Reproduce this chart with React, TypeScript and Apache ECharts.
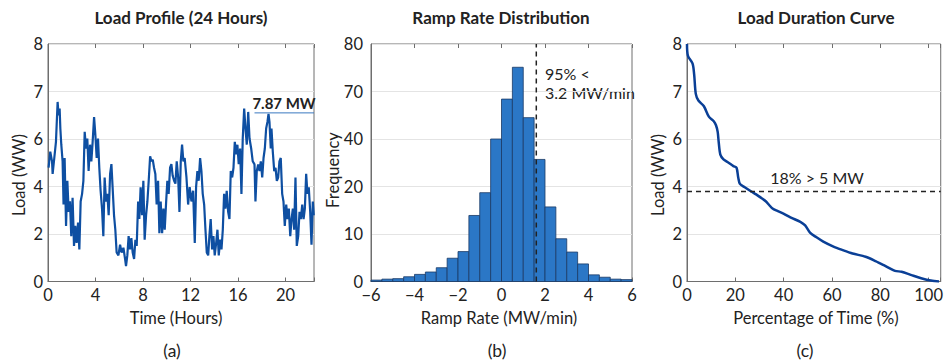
import React, { useEffect, useRef } from "react";
import * as echarts from "echarts";

// ---------- data ----------
const LOAD_TICKS = [0, 2, 4, 6, 7, 8];
const FREQ_TICKS = [0, 10, 20, 40, 70, 80];

const HOURS = [
  0.05, 0.19, 0.34, 0.39, 0.53, 0.67, 0.81, 0.89, 0.98, 1.04, 1.12, 1.23, 1.31, 1.4, 1.52, 1.63, 1.74, 1.85, 1.96, 2.07,
  2.19, 2.3, 2.41, 2.53, 2.64, 2.75, 2.87, 2.98, 3.09, 3.2, 3.31, 3.42, 3.54, 3.65, 3.76, 3.88, 3.99, 4.1, 4.21, 4.32,
  4.43, 4.55, 4.66, 4.77, 4.89, 5.0, 5.11, 5.23, 5.34, 5.44, 5.56, 5.67, 5.78, 5.93, 6.07, 6.2, 6.35, 6.49, 6.57, 6.68,
  6.79, 6.91, 7.02, 7.13, 7.25, 7.36, 7.47, 7.59, 7.69, 7.8, 7.92, 8.03, 8.14, 8.26, 8.37, 8.48, 8.6, 8.71, 8.82, 8.93,
  9.04, 9.15, 9.27, 9.38, 9.49, 9.61, 9.72, 9.83, 9.95, 10.05, 10.16, 10.28, 10.39, 10.5, 10.62, 10.73, 10.84, 10.96, 11.07, 11.18,
  11.29, 11.4, 11.51, 11.66, 11.8, 11.93, 12.08, 12.22, 12.36, 12.47, 12.58, 12.69, 12.81, 12.92, 13.03, 13.15, 13.26, 13.37, 13.49, 13.59,
  13.7, 13.82, 13.93, 14.04, 14.16, 14.27, 14.38, 14.5, 14.61, 14.72, 14.83, 14.94, 15.05, 15.17, 15.28, 15.39, 15.51, 15.62, 15.73, 15.84,
  15.95, 16.06, 16.18, 16.29, 16.4, 16.52, 16.63, 16.74, 16.86, 16.97, 17.11, 17.24, 17.39, 17.47, 17.58, 17.7, 17.81, 17.92, 18.04, 18.15,
  18.26, 18.37, 18.48, 18.57, 18.65, 18.76, 18.82, 18.93, 19.05, 19.16, 19.27, 19.38, 19.49, 19.6, 19.72, 19.83, 19.94, 20.06, 20.17, 20.28,
  20.4, 20.51, 20.62, 20.73, 20.84, 20.95, 21.07, 21.18, 21.29, 21.41, 21.52, 21.63, 21.74, 21.85, 21.96, 22.08, 22.19, 22.3, 22.38,
];
const LOAD = [
  4.79, 5.47, 5.06, 4.53, 5.2, 5.88, 6.78, 6.5, 6.64, 6.22, 5.76, 5.06, 3.24, 5.2, 2.34, 4.24, 2.93, 3.38, 1.91, 3.52,
  1.5, 2.34, 1.62, 2.48, 1.35, 3.37, 3.69, 4.24, 6.15, 5.6, 6.01, 4.65, 5.76, 5.06, 5.88, 6.46, 6.08, 5.2, 6.01, 4.79,
  3.82, 3.07, 1.91, 4.38, 3.37, 3.69, 2.79, 4.53, 4.94, 3.97, 2.79, 2.18, 1.22, 1.1, 1.55, 1.22, 1.42, 0.95, 0.65, 1.1,
  1.91, 1.35, 1.83, 1.22, 0.95, 1.76, 1.5, 3.37, 2.63, 3.97, 2.79, 4.24, 1.76, 2.79, 3.37, 4.24, 5.27, 5.06, 5.13, 4.79,
  4.53, 3.24, 4.24, 2.03, 3.37, 2.03, 3.07, 2.18, 3.37, 4.24, 3.69, 4.79, 4.94, 4.45, 4.24, 4.12, 5.06, 4.38, 2.93, 5.06,
  5.76, 5.06, 5.2, 4.38, 3.24, 3.97, 3.37, 3.82, 1.62, 3.97, 4.65, 4.24, 5.2, 4.65, 3.69, 3.24, 2.18, 1.22, 1.1, 1.91,
  2.63, 1.35, 1.91, 1.1, 1.62, 2.18, 1.1, 1.76, 1.35, 2.18, 3.69, 3.07, 3.82, 2.93, 2.63, 4.65, 4.38, 4.79, 5.88, 5.35,
  5.76, 4.94, 5.6, 3.69, 6.01, 6.64, 6.22, 5.76, 6.57, 6.01, 5.6, 5.06, 4.93, 3.37, 4.65, 4.93, 4.65, 5.06, 4.38, 5.2,
  5.6, 6.22, 6.36, 6.53, 6.36, 5.6, 6.22, 5.47, 4.65, 4.79, 4.24, 4.38, 5.06, 5.2, 3.69, 3.37, 2.34, 3.24, 2.63, 3.07,
  1.91, 2.63, 3.07, 2.18, 4.38, 1.5, 1.91, 2.93, 2.63, 3.24, 2.63, 3.07, 4.53, 3.69, 3.97, 2.93, 1.55, 3.37, 2.79,
];
const PEAK_LABEL = "7.87 MW";
const PEAK_LINE_HOURS = [17.39, 22.4];
const PEAK_LINE_LOAD = 6.55;

const BIN_LEFT = [
  -6, -5.5, -5, -4.5, -4, -3.5, -3, -2.5, -2, -1.5, -1, -0.5,
  0, 0.5, 1, 1.5, 2, 2.5, 3, 3.5, 4, 4.5, 5, 5.5,
];
const BIN_WIDTH = 0.5;
const FREQ = [
  0.3, 0.5, 0.6, 1.0, 1.5, 2.0, 2.9, 4.9, 6.3, 13.9, 18.7, 40,
  65.2, 75.1, 53.5, 31.4, 15.7, 9.0, 6.2, 3.7, 1.4, 0.9, 0.5, 0.4,
];
const P95_RAMP = 1.6;

const LDC_PCT = [
  0, 0.39, 2.28, 2.96, 3.64, 4.72, 7.0, 9.04, 11.07, 12.0, 12.7, 13.1, 13.8, 15.1, 17.2, 19.2, 20.5, 21.2, 21.9, 23.9,
  26.6, 28.6, 30.7, 32.7, 34.0, 35.4, 37.4, 40.1, 42.8, 46.9, 48.9, 50.9, 53.6, 56.4, 60.4, 64.5, 68.5, 73.9, 78.0, 82.0,
  86.1, 88.8, 92.9, 96.9, 100.9, 104.3,
];
const LDC_LOAD = [
  8.0, 7.75, 7.59, 7.36, 6.95, 6.81, 6.69, 6.47, 6.375, 6.29, 6.15, 5.89, 5.34, 5.14, 5.0, 4.86, 4.79, 4.38, 4.11, 3.97,
  3.79, 3.67, 3.52, 3.37, 3.22, 3.07, 2.97, 2.85, 2.7, 2.51, 2.36, 2.06, 1.86, 1.68, 1.48, 1.32, 1.18, 1.04, 0.86, 0.66,
  0.45, 0.41, 0.27, 0.14, 0.04, 0.0,
];
const LDC_THRESHOLD = 3.79;

// ---------- helpers ----------
function toPos(v: number, ticks: number[]): number {
  for (let i = 0; i < ticks.length - 1; i++) {
    if (v <= ticks[i + 1]) return i + (v - ticks[i]) / (ticks[i + 1] - ticks[i]);
  }
  return ticks.length - 1;
}

const FONT = "Lato, 'Noto Sans', sans-serif";
const TXT = "#222";
const FRAME = "#6e6e6e";
const GRIDLINE = "#e4e4e4";

const GRIDS = [
  { left: 48, top: 44, width: 266, height: 237.5 },
  { left: 371, top: 44, width: 261, height: 237.5 },
  { left: 687, top: 44, width: 259, height: 237.5 },
];

function yAxis(gridIndex: number, ticks: number[], margin: number) {
  return {
    type: "value",
    gridIndex,
    min: 0,
    max: ticks.length - 1,
    interval: 1,
    axisLine: { show: true, onZero: false, lineStyle: { color: FRAME } },
    axisTick: { show: false },
    splitLine: { show: true, lineStyle: { color: GRIDLINE, width: 1 } },
    axisLabel: {
      margin,
      fontSize: 16.5,
      color: TXT,
      fontFamily: FONT,
      formatter: (v: number) => String(ticks[Math.round(v)]),
    },
  };
}

function xAxis(gridIndex: number, min: number, max: number, interval: number, fmt: (v: number) => string) {
  return {
    type: "value",
    gridIndex,
    min,
    max,
    interval,
    axisLine: { show: true, onZero: false, lineStyle: { color: FRAME } },
    axisTick: { show: true, inside: true, length: 4, lineStyle: { color: FRAME } },
    splitLine: { show: false },
    axisLabel: { margin: 5, fontSize: 16.5, color: TXT, fontFamily: FONT, formatter: fmt },
  };
}

function topAxis(gridIndex: number, min: number, max: number, interval: number) {
  return {
    type: "value",
    gridIndex,
    position: "top",
    min,
    max,
    interval,
    axisLine: { show: false, onZero: false },
    axisTick: { show: true, inside: true, length: 4, lineStyle: { color: FRAME } },
    splitLine: { show: false },
    axisLabel: { show: false },
  };
}

const minusFmt = (v: number) => (v < 0 ? "\u2212" + Math.abs(v) : String(v));

function text(x: number, y: number, s: string, size: number, opts: any = {}) {
  return {
    type: "text",
    x,
    y,
    rotation: opts.rotation || 0,
    silent: true,
    style: {
      text: s,
      fill: TXT,
      fontSize: size,
      fontFamily: FONT,
      fontWeight: opts.weight || "normal",
      align: opts.align || "center",
      verticalAlign: "middle",
    },
  };
}

export default function App() {
  const ref = useRef<HTMLDivElement>(null);

  useEffect(() => {
    if (!ref.current) return;
    const chart = echarts.init(ref.current, undefined, { renderer: "svg" });

    const loadData = HOURS.map((h, i) => [h, toPos(LOAD[i], LOAD_TICKS)]);
    const histData = FREQ.map((f, i) => [BIN_LEFT[i], BIN_LEFT[i] + BIN_WIDTH, toPos(f, FREQ_TICKS)]);
    const ldcData = LDC_PCT.map((p, i) => [p, toPos(LDC_LOAD[i], LOAD_TICKS)]);

    chart.setOption({
      animation: false,
      backgroundColor: "#fff",
      grid: GRIDS.map((g) => ({ ...g, show: true, borderColor: FRAME, borderWidth: 1, backgroundColor: "transparent" })),
      xAxis: [
        xAxis(0, 0, 22.4, 4, (v) => (v % 4 === 0 ? String(v) : "")),
        xAxis(1, -6, 6, 2, minusFmt),
        xAxis(2, 0, 105, 20, (v) => (v % 20 === 0 ? String(v) : "")),
        topAxis(0, 0, 22.4, 4),
        topAxis(1, -6, 6, 2),
        topAxis(2, 0, 105, 20),
      ],
      yAxis: [yAxis(0, LOAD_TICKS, 5), yAxis(1, FREQ_TICKS, 8), yAxis(2, LOAD_TICKS, 5)],
      series: [
        {
          type: "line",
          xAxisIndex: 0,
          yAxisIndex: 0,
          data: loadData,
          showSymbol: false,
          lineStyle: { color: "#0e4fa2", width: 2.2 },
          z: 3,
        },
        {
          type: "line",
          xAxisIndex: 0,
          yAxisIndex: 0,
          data: PEAK_LINE_HOURS.map((h) => [h, toPos(PEAK_LINE_LOAD, LOAD_TICKS)]),
          showSymbol: false,
          lineStyle: { color: "#3a78c0", width: 1 },
          z: 4,
        },
        {
          type: "custom",
          xAxisIndex: 1,
          yAxisIndex: 1,
          data: histData,
          encode: { x: [0, 1], y: 2 },
          renderItem: (params: any, api: any) => {
            const p0 = api.coord([api.value(0), 0]);
            const p1 = api.coord([api.value(1), api.value(2)]);
            return {
              type: "rect",
              shape: { x: p0[0], y: p1[1], width: p1[0] - p0[0], height: p0[1] - p1[1] },
              style: { fill: "#2b77c6", stroke: "#1b3a66", lineWidth: 0.8 },
            };
          },
          z: 2,
        },
        {
          type: "line",
          xAxisIndex: 1,
          yAxisIndex: 1,
          data: [
            [P95_RAMP, 0],
            [P95_RAMP, FREQ_TICKS.length - 1],
          ],
          showSymbol: false,
          lineStyle: { color: "#222", width: 1.5, type: [5, 4] },
          z: 5,
        },
        {
          type: "line",
          xAxisIndex: 2,
          yAxisIndex: 2,
          data: ldcData,
          showSymbol: false,
          smooth: 0.3,
          lineStyle: { color: "#0a3f96", width: 2.5 },
          z: 3,
        },
        {
          type: "line",
          xAxisIndex: 2,
          yAxisIndex: 2,
          data: [
            [0, toPos(LDC_THRESHOLD, LOAD_TICKS)],
            [105, toPos(LDC_THRESHOLD, LOAD_TICKS)],
          ],
          showSymbol: false,
          lineStyle: { color: "#222", width: 1.5, type: [5, 4] },
          z: 4,
        },
      ],
      graphic: [
        text(181, 17, "Load Profile (24 Hours)", 17, { weight: "bold" }),
        text(501, 17, "Ramp Rate Distribution", 17, { weight: "bold" }),
        text(816, 17, "Load Duration Curve", 17, { weight: "bold" }),
        text(19, 175, "Load (WW)", 16.5, { rotation: Math.PI / 2 }),
        text(333, 170, "Frequency", 16.5, { rotation: Math.PI / 2 }),
        text(658, 175, "Load (WW)", 16.5, { rotation: Math.PI / 2 }),
        text(176, 318, "Time (Hours)", 16.5),
        text(499, 318, "Ramp Rate (MW/min)", 16.5),
        text(816, 318, "Percentage of Time (%)", 16.5),
        text(172, 350, "(a)", 17.5),
        text(497, 350, "(b)", 17.5),
        text(805, 350, "(c)", 17.5),
        text(284, 103, PEAK_LABEL, 15, { weight: "bold" }),
        text(545, 73, "95% <", 16, { align: "left" }),
        text(545, 92, "3.2 MW/min", 16, { align: "left" }),
        text(817, 177, "18% > 5 MW", 16),
      ],
    });

    return () => chart.dispose();
  }, []);

  return (
    <div
      ref={ref}
      style={{ position: "fixed", left: 0, top: 0, width: 946, height: 362, overflow: "hidden" }}
    />
  );
}
